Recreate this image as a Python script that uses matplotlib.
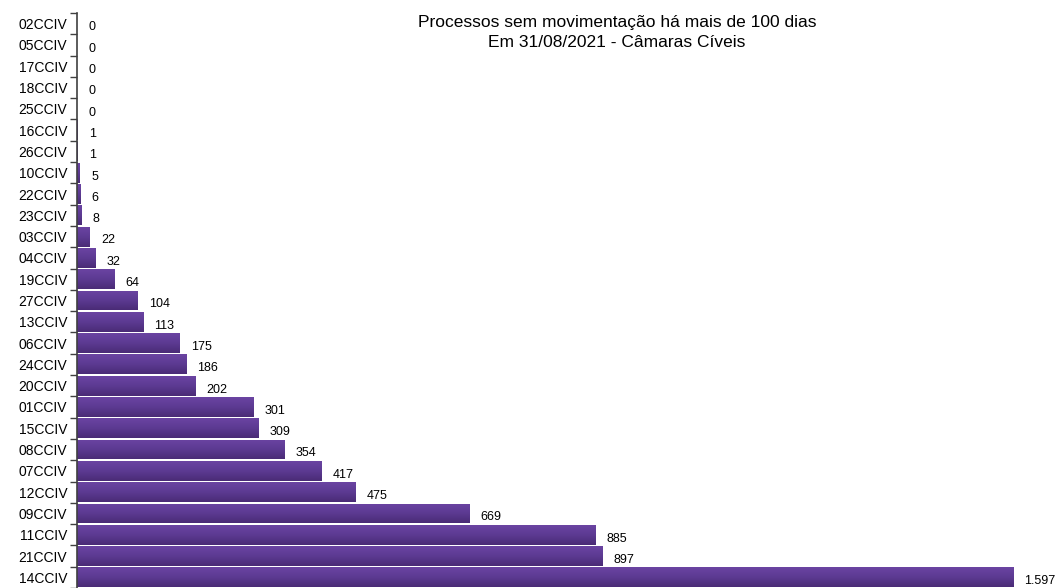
import numpy as np
import matplotlib.pyplot as plt
from matplotlib.colors import LinearSegmentedColormap

plt.rcParams['font.family'] = ['Liberation Sans', 'DejaVu Sans']

# data (top to bottom as in the chart)
camaras = ['02CCIV', '05CCIV', '17CCIV', '18CCIV', '25CCIV', '16CCIV', '26CCIV',
           '10CCIV', '22CCIV', '23CCIV', '03CCIV', '04CCIV', '19CCIV', '27CCIV',
           '13CCIV', '06CCIV', '24CCIV', '20CCIV', '01CCIV', '15CCIV', '08CCIV',
           '07CCIV', '12CCIV', '09CCIV', '11CCIV', '21CCIV', '14CCIV']
processos = [0, 0, 0, 0, 0, 1, 1, 5, 6, 8, 22, 32, 64, 104, 113, 175, 186, 202,
             301, 309, 354, 417, 475, 669, 885, 897, 1597]
rotulos = ['1.597' if v >= 1000 else str(v) for v in processos]

fig = plt.figure(figsize=(10.6, 5.88), dpi=100)
ax = fig.add_axes([77 / 1060, 0.0, 983 / 1060, 1 - 13 / 588])

y = np.arange(len(camaras))
bars = ax.barh(y, processos, height=0.93, color='#5a3790', edgecolor='none')

ax.set_ylim(len(camaras) - 0.5, -0.5)
ax.set_xlim(0, 1677)

# vertical gradient inside each bar
cmap = LinearSegmentedColormap.from_list('roxo', ['#6b44a2', '#5c3a92', '#4a2b76'])
grad = np.linspace(0, 1, 64).reshape(-1, 1)
for b in bars:
    if b.get_width() <= 0:
        continue
    x0, y0 = b.get_x(), b.get_y()
    w, h = b.get_width(), b.get_height()
    im = ax.imshow(grad, cmap=cmap, aspect='auto', origin='upper',
                   extent=(x0, x0 + w, y0 + h, y0), zorder=2, interpolation='bilinear')
    im.set_clip_path(b)

# value labels
for yi, v, t in zip(y, processos, rotulos):
    ax.text(v + 19, yi + 0.18, t, va='center', ha='left', fontsize=9, color='black')

fig.text(617 / 1060, 1 - 15 / 588,
         'Processos sem movimentação há mais de 100 dias\nEm 31/08/2021 - Câmaras Cíveis',
         fontsize=12.5, ha='center', va='top', multialignment='center', linespacing=1.4)

ax.set_yticks(y)
ax.set_yticklabels(camaras, fontsize=10)
ax.set_yticks(np.arange(len(camaras) + 1) - 0.5, minor=True)
ax.tick_params(axis='y', which='major', length=0, pad=7)
ax.tick_params(axis='y', which='minor', length=5, width=1, color='#404040', direction='out')
ax.set_xticks([])
for s in ['top', 'right', 'bottom']:
    ax.spines[s].set_visible(False)
ax.spines['left'].set_color('#404040')
ax.spines['left'].set_linewidth(1.2)
ax.spines['left'].set_zorder(3)

fig.savefig('out.png', dpi=100)
